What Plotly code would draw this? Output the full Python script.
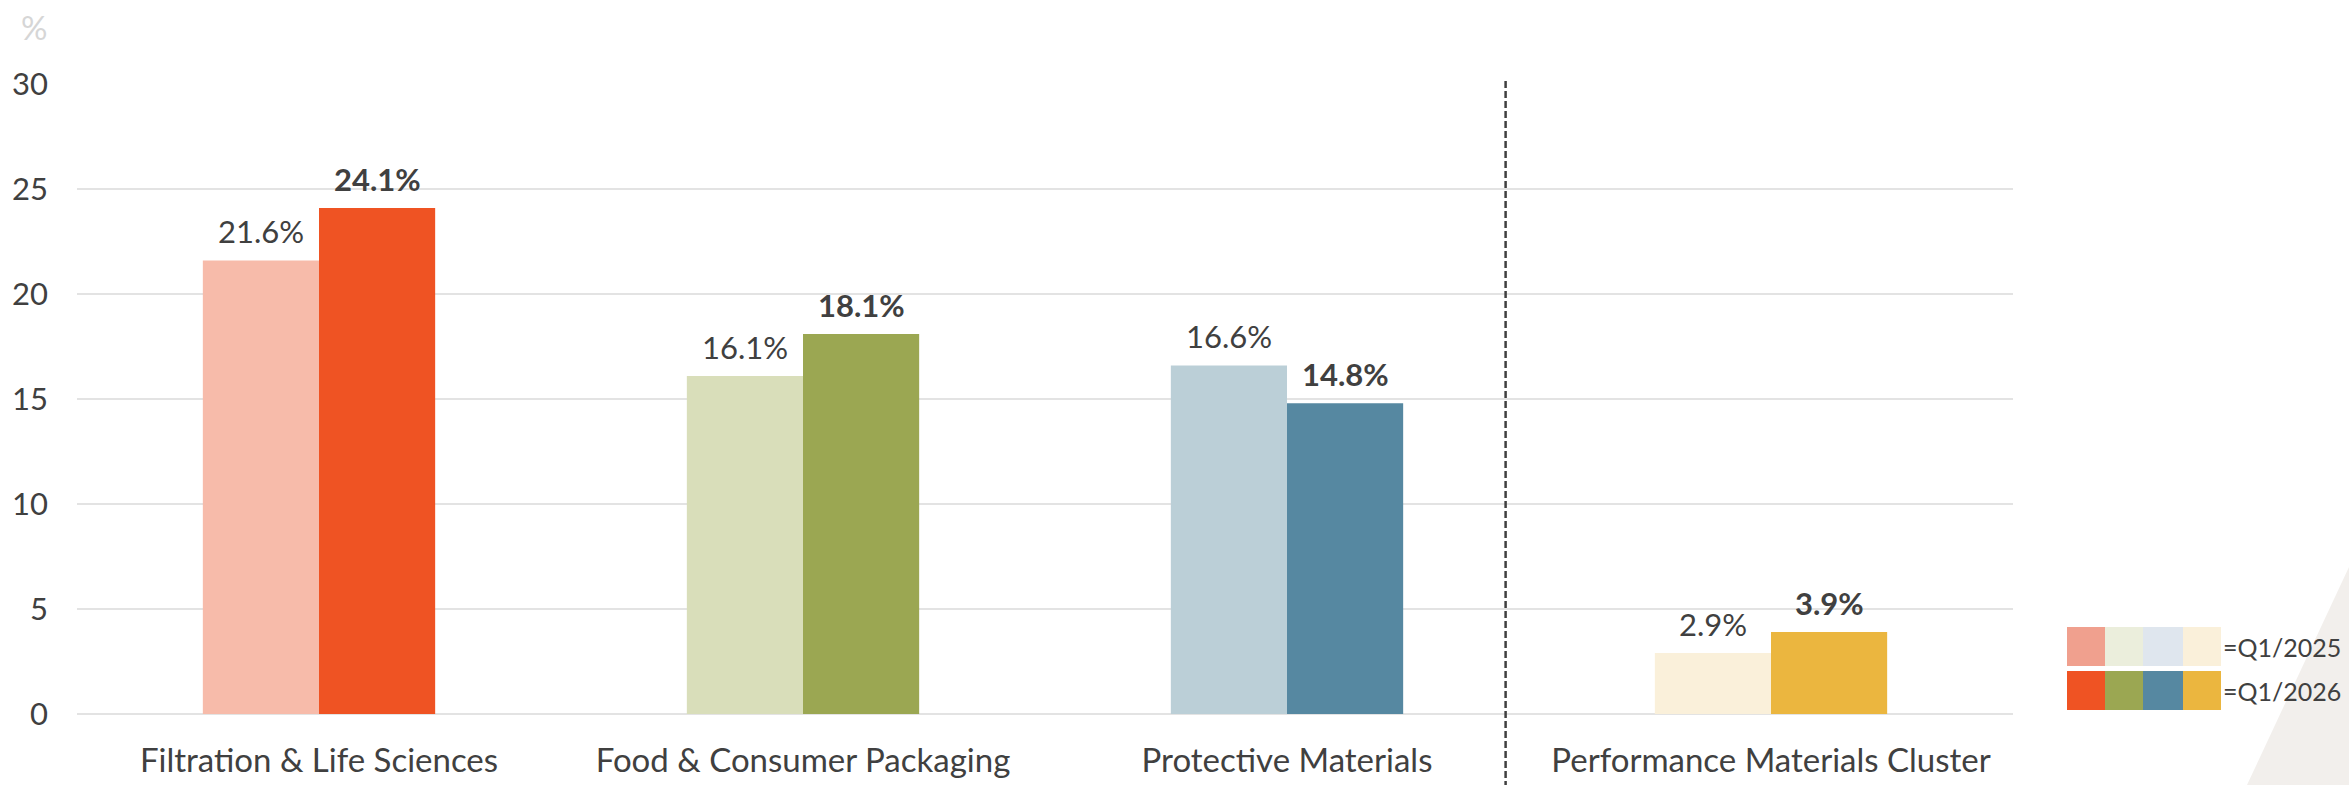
import plotly.graph_objects as go

categories = ["Filtration & Life Sciences", "Food & Consumer Packaging",
              "Protective Materials", "Performance Materials Cluster"]
q1_2025 = [21.6, 16.1, 16.6, 2.9]
q1_2026 = [24.1, 18.1, 14.8, 3.9]
colors_2025 = ["#F7BBAA", "#D9DEBA", "#BBCFD7", "#FAF0DA"]
colors_2026 = ["#EF5323", "#9BA752", "#5688A1", "#EBB63F"]
legend_2025 = ["#F0A08E", "#EBEEDC", "#DFE6EE", "#FAF0DA"]
legend_2026 = colors_2026
legend_labels = ["=Q1/2025", "=Q1/2026"]
y_ticks = [0, 5, 10, 15, 20, 25, 30]

W, H = 2349, 785
L, R, T, B = 77, 336, 84, 71
PW = W - L - R
PH = H - T - B
FONT = "Lato, Arial, sans-serif"
TXT = "#404040"

def px_x(p):
    return (p - L) / PW

def px_y(p):
    return (H - B - p) / PH

fig = go.Figure()
fig.add_trace(go.Bar(x=categories, y=q1_2025, marker=dict(color=colors_2025, line=dict(width=0)),
                     name="Q1/2025", showlegend=False, hoverinfo="skip"))
fig.add_trace(go.Bar(x=categories, y=q1_2026, marker=dict(color=colors_2026, line=dict(width=0)),
                     name="Q1/2026", showlegend=False, hoverinfo="skip"))

annotations = []
for c, v in zip(categories, q1_2025):
    annotations.append(dict(x=c, y=v, xref="x", yref="y", text=f"{v:.1f}%", showarrow=False,
                            xshift=-58, yanchor="bottom", yshift=8,
                            font=dict(family=FONT, size=31, color=TXT)))
for c, v in zip(categories, q1_2026):
    annotations.append(dict(x=c, y=v, xref="x", yref="y", text=f"<b>{v:.1f}%</b>", showarrow=False,
                            xshift=58, yanchor="bottom", yshift=8,
                            font=dict(family=FONT, size=31, color=TXT)))

# "%" unit label
annotations.append(dict(x=px_x(34), y=px_y(27), xref="paper", yref="paper", text="%",
                        showarrow=False, xanchor="center", yanchor="middle",
                        font=dict(family=FONT, size=33, color="#D6D6D6")))

shapes = []
# background triangle
shapes.append(dict(type="path", xref="paper", yref="paper", layer="below",
                   path=f"M {px_x(2349)},{px_y(567)} L {px_x(2349)},{px_y(785)} L {px_x(2247)},{px_y(785)} Z",
                   fillcolor="#F2EFEC", line=dict(width=0)))
# dashed separator
shapes.append(dict(type="line", xref="paper", yref="paper",
                   x0=px_x(1505.6), x1=px_x(1505.6), y0=px_y(81), y1=px_y(785),
                   line=dict(color="#404040", width=2.5, dash="7px,3px")))

# legend swatches
col_edges = [2067, 2105, 2143, 2183, 2221]
rows = [(627, 666, legend_2025), (671, 710, legend_2026)]
for (ytop, ybot, cols), lab in zip(rows, legend_labels):
    for i, col in enumerate(cols):
        shapes.append(dict(type="rect", xref="paper", yref="paper",
                           x0=px_x(col_edges[i]), x1=px_x(col_edges[i + 1]),
                           y0=px_y(ybot), y1=px_y(ytop), fillcolor=col, line=dict(width=0)))
    annotations.append(dict(x=px_x(2221), y=px_y((ytop + ybot) / 2), xref="paper", yref="paper",
                            text=lab, showarrow=False, xanchor="left", yanchor="middle",
                            font=dict(family=FONT, size=25, color=TXT)))

fig.update_layout(
    width=W, height=H,
    margin=dict(l=L, r=R, t=T, b=B, pad=0, autoexpand=False),
    paper_bgcolor="white", plot_bgcolor="white",
    barmode="group", bargap=0.52, bargroupgap=0,
    font=dict(family=FONT, size=30, color=TXT),
    annotations=annotations, shapes=shapes,
    xaxis=dict(type="category", showgrid=False, showline=False, zeroline=False,
               ticks="", tickfont=dict(family=FONT, size=33, color=TXT), automargin=False,
               ticklabelstandoff=24, fixedrange=True),
    yaxis=dict(range=[0, 30], tickvals=y_ticks, showgrid=True, gridcolor="#E3E3E3", gridwidth=2,
               zeroline=True, zerolinecolor="#E3E3E3", zerolinewidth=2, showline=False,
               ticks="", tickfont=dict(family=FONT, size=31, color=TXT), automargin=False,
               ticklabelstandoff=28, fixedrange=True),
)

fig.write_html("out.html", config={"displayModeBar": False})
